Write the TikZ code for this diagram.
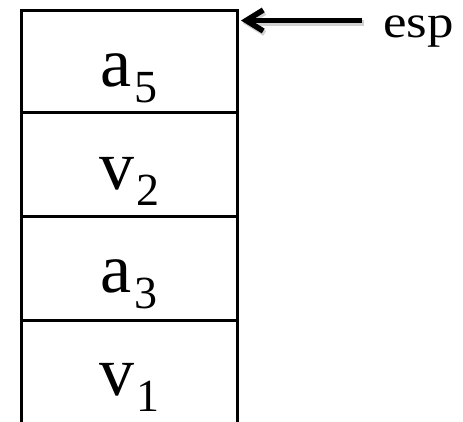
\documentclass[tikz,border=0pt]{standalone}
\usepackage{fontspec}
\setmainfont{Liberation Serif}
\newfontfamily\espfont[FakeStretch=1.15]{Liberation Serif}
\usetikzlibrary{arrows.meta}
\newcommand{\lbl}[2]{#1\kern2pt\raisebox{-16pt}{\fontsize{46}{46}\selectfont #2}}
\tikzset{
  stackline/.style={line width=3pt, line cap=rect},
  cell/.style={inner sep=0pt, anchor=base, font=\fontsize{70}{70}\selectfont},
  ptrlabel/.style={inner sep=0pt, anchor=base west, text height=22pt, font=\espfont\fontsize{46}{46}\selectfont},
  ptr/.style={line width=5.5pt, -{Straight Barb[length=17pt,width=21pt,line width=5.5pt]}}
}
\begin{document}
\begin{tikzpicture}[x=1pt,y=-1pt]
\useasboundingbox (0,0) rectangle (463,422);
% stack
\draw[stackline] (21.5,424) -- (21.5,11) -- (237,11) -- (237,424);
\draw[stackline] (21.5,113) -- (237,113);
\draw[stackline] (21.5,216.5) -- (237,216.5);
\draw[stackline] (21.5,320.5) -- (237,320.5);
% labels
\node[cell] (a5) at (129,87) {\lbl{a}{5}};
\node[cell] (v2) at (129,190) {\lbl{v}{2}};
\node[cell] (a3) at (129,292) {\lbl{a}{3}};
\node[cell] (v1) at (129,395) {\lbl{v}{1}};
% pointer
\coordinate (top) at (241,20.5);
\coordinate (tail) at (362,20.5);
\node[ptrlabel] (esp) at (383,38) {esp};
\draw[ptr, black!18, transform canvas={shift={(1.5pt,-2.5pt)}}] (tail) -- (top);
\draw[ptr] (tail) -- (top);
\end{tikzpicture}
\end{document}
